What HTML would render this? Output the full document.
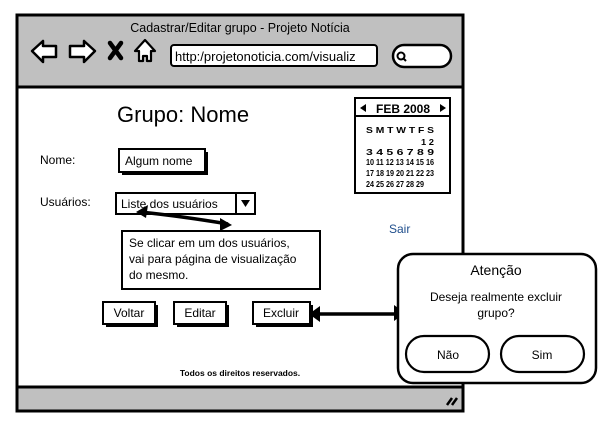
<!DOCTYPE html>
<html><head><meta charset="utf-8"><style>
html,body{margin:0;padding:0;background:#fff;width:611px;height:430px;overflow:hidden}
svg{display:block}
text{font-family:"Liberation Sans",sans-serif;fill:#000}
</style></head><body>
<svg width="611" height="430" viewBox="0 0 611 430" xmlns="http://www.w3.org/2000/svg">
<rect x="17" y="15" width="446" height="396" fill="#fff" stroke="#000" stroke-width="3"/>
<rect x="18.5" y="16.5" width="443" height="70" fill="#c0c0c0"/>
<line x1="17" y1="87" x2="463" y2="87" stroke="#000" stroke-width="3"/>
<rect x="18.5" y="388" width="443" height="21.5" fill="#c0c0c0"/>
<line x1="17" y1="387" x2="463" y2="387" stroke="#000" stroke-width="3"/>
<text x="240" y="32" font-size="12.5" text-anchor="middle">Cadastrar/Editar grupo - Projeto Notícia</text>
<path d="M32,51 L43,41 L43,46 L56,46 L56,57 L43,57 L43,62 Z" fill="#fff" stroke="#000" stroke-width="2.5" stroke-linejoin="round"/>
<path d="M95,51 L84,41 L84,46 L70,46 L70,57 L84,57 L84,62 Z" fill="#fff" stroke="#000" stroke-width="2.5" stroke-linejoin="round"/>
<path d="M110,43 L121,58 M121,43 L110,58" stroke="#000" stroke-width="4.5" stroke-linecap="round"/>
<path d="M145,40 L155,51 L151,51 L151,61 L147,61 L147,56 L143,56 L143,61 L139,61 L139,51 L135,51 Z" fill="#fff" stroke="#000" stroke-width="2.2" stroke-linejoin="round"/>
<rect x="171" y="45" width="206" height="21" rx="3" fill="#fff" stroke="#000" stroke-width="2"/>
<text x="175" y="61" font-size="13">http:/projetonoticia.com/visualiz</text>
<rect x="393" y="45" width="58" height="22" rx="11" fill="#fff" stroke="#000" stroke-width="2.5"/>
<circle cx="401" cy="56" r="3.5" fill="none" stroke="#000" stroke-width="2"/>
<line x1="403" y1="58" x2="406" y2="61" stroke="#000" stroke-width="2"/>
<path d="M447,405 L452,398 M452,405 L457,398" stroke="#000" stroke-width="2.5"/>
<text x="117" y="122" font-size="22">Grupo: Nome</text>
<text x="40" y="164" font-size="12">Nome:</text>
<rect x="122" y="152" width="86" height="23" fill="#000"/>
<rect x="119" y="149" width="86" height="23" fill="#fff" stroke="#000" stroke-width="2"/>
<text x="125" y="165" font-size="12">Algum nome</text>
<text x="40" y="206" font-size="12">Usuários:</text>
<rect x="116" y="193" width="139" height="21" fill="#fff" stroke="#000" stroke-width="2"/>
<line x1="236" y1="193" x2="236" y2="214" stroke="#000" stroke-width="2"/>
<path d="M241,200 L250,200 L245.5,207 Z" fill="#000"/>
<text x="121" y="208" font-size="12">Liste dos usuários</text>
<rect x="355" y="98" width="95" height="95" fill="#fff" stroke="#000" stroke-width="2"/>
<line x1="355" y1="116" x2="450" y2="116" stroke="#000" stroke-width="2"/>
<path d="M360,108 L366,104 L366,112 Z M446,108 L440,104 L440,112 Z" fill="#000"/>
<text x="403" y="113" font-size="12" font-weight="bold" text-anchor="middle">FEB 2008</text>
<g font-size="8.5" font-weight="bold">
<text x="366" y="133" textLength="68" lengthAdjust="spacingAndGlyphs">S M T W T F S</text>
<text x="421" y="145" textLength="13" lengthAdjust="spacingAndGlyphs">1 2</text>
<text x="366" y="155" textLength="68" lengthAdjust="spacingAndGlyphs">3 4 5 6 7 8 9</text>
<text x="366" y="165" textLength="68" lengthAdjust="spacingAndGlyphs">10 11 12 13 14 15 16</text>
<text x="366" y="176" textLength="68" lengthAdjust="spacingAndGlyphs">17 18 19 20 21 22 23</text>
<text x="366" y="187" textLength="58" lengthAdjust="spacingAndGlyphs">24 25 26 27 28 29</text>
</g>
<text x="389" y="233" font-size="12" style="fill:#1f4e8c">Sair</text>
<rect x="122" y="231" width="198" height="58" fill="#fff" stroke="#000" stroke-width="2"/>
<text x="129" y="247" font-size="12">Se clicar em um dos usuários,</text>
<text x="129" y="263" font-size="12">vai para página de visualização</text>
<text x="129" y="279" font-size="12">do mesmo.</text>
<path d="M140,212 Q180,216 228,224" fill="none" stroke="#000" stroke-width="3.5"/>
<path d="M136,212 L148,205 L146,218 Z" fill="#000"/>
<path d="M232,225 L220,218 L220,231 Z" fill="#000"/>
<rect x="106" y="305" width="52" height="22" fill="#000"/>
<rect x="103" y="302" width="52" height="22" fill="#fff" stroke="#000" stroke-width="2"/>
<text x="129" y="317" font-size="12" text-anchor="middle">Voltar</text>
<rect x="177" y="305" width="52" height="22" fill="#000"/>
<rect x="174" y="302" width="52" height="22" fill="#fff" stroke="#000" stroke-width="2"/>
<text x="200" y="317" font-size="12" text-anchor="middle">Editar</text>
<rect x="256" y="305" width="57" height="22" fill="#000"/>
<rect x="253" y="302" width="57" height="22" fill="#fff" stroke="#000" stroke-width="2"/>
<text x="281" y="317" font-size="12" text-anchor="middle">Excluir</text>
<line x1="314" y1="314" x2="400" y2="314" stroke="#000" stroke-width="3.5"/>
<path d="M309,314 L320,306 L320,322 Z" fill="#000"/>
<path d="M405,313 L394,305 L394,321 Z" fill="#000"/>
<text x="240" y="376" font-size="8.5" font-weight="bold" text-anchor="middle">Todos os direitos reservados.</text>
<rect x="398" y="254" width="198" height="129" rx="15" fill="#fff" stroke="#000" stroke-width="2.5"/>
<text x="496" y="275" font-size="14" text-anchor="middle">Atenção</text>
<text x="496" y="301" font-size="12" text-anchor="middle">Deseja realmente excluir</text>
<text x="496" y="317" font-size="12" text-anchor="middle">grupo?</text>
<rect x="406" y="336" width="83" height="36" rx="18" fill="#fff" stroke="#000" stroke-width="2.2"/>
<text x="448" y="359" font-size="12" text-anchor="middle">Não</text>
<rect x="501" y="336" width="83" height="36" rx="18" fill="#fff" stroke="#000" stroke-width="2.2"/>
<text x="542" y="359" font-size="12" text-anchor="middle">Sim</text>
</svg>
</body></html>
